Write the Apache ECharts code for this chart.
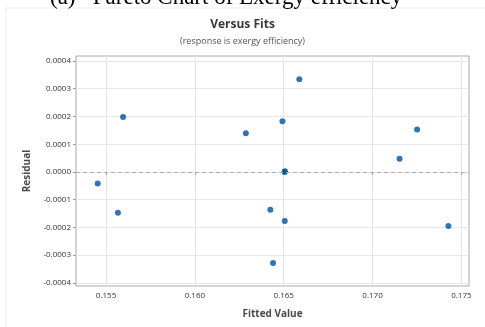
<!DOCTYPE html>
<html><head><meta charset="utf-8">
<script src="https://cdn.jsdelivr.net/npm/echarts@6/dist/echarts.min.js"></script>
<style>html,body{margin:0;padding:0;background:#fff}#c{width:485px;height:327px}</style>
</head><body><div id="c"></div>
<script>
const fittedValues = [0.15453, 0.15567, 0.15596, 0.16287, 0.16425, 0.16440, 0.16493, 0.16507, 0.16505, 0.16506, 0.16588, 0.17152, 0.17251, 0.17427];
const residuals    = [-0.000042, -0.000147, 0.000198, 0.000140, -0.000136, -0.000328, 0.000183, 0.000003, 0.000000, -0.000177, 0.000334, 0.000048, 0.000153, -0.000195];
const xTicks = [0.155, 0.160, 0.165, 0.170, 0.175];
const yTicks = [-0.0004, -0.0003, -0.0002, -0.0001, 0, 0.0001, 0.0002, 0.0003, 0.0004];

const chart = echarts.init(document.getElementById('c'), null, {renderer: 'canvas'});
const font = "'Open Sans', 'Noto Sans', sans-serif";
chart.setOption({
  animation: false,
  backgroundColor: '#fff',
  title: [
    {text: 'Versus Fits', left: 'center', top: 14, textStyle: {fontFamily: font, fontSize: 12, fontWeight: 'bold', color: '#3a3a3a'}},
    {text: '(response is exergy efficiency)', left: 'center', top: 32, textStyle: {fontFamily: font, fontSize: 9, fontWeight: 'normal', color: '#555'}}
  ],
  graphic: [
    {type: 'rect', shape: {x: 6, y: 8, width: 485, height: 330}, style: {fill: 'none', stroke: '#ececec', lineWidth: 1}, silent: true, z: -1},
    {type: 'text', left: 50, top: -14, style: {text: '(a)   Pareto Chart of Exergy efficiency', font: "23px 'Liberation Serif', 'Times New Roman', serif", fill: '#000'}, z: 10}
  ],
  grid: {left: 76, right: 16, top: 56, bottom: 41, show: true, borderColor: '#a8a8a8', borderWidth: 1, backgroundColor: 'transparent'},
  xAxis: {
    type: 'value', min: 0.15331, max: 0.17543,
    name: 'Fitted Value', nameLocation: 'middle', nameGap: 23,
    nameTextStyle: {fontFamily: font, fontSize: 10, fontWeight: 'bold', color: '#4a4a4a'},
    axisLine: {show: false},
    axisTick: {show: true, length: 3, lineStyle: {color: '#999'}, customValues: xTicks},
    axisLabel: {customValues: xTicks, fontFamily: font, fontSize: 8, color: '#333', margin: 6, formatter: v => v.toFixed(3)},
    splitLine: {show: true, lineStyle: {color: '#e6e6e6'}}
  },
  yAxis: {
    type: 'value', min: -0.000411, max: 0.000418,
    name: 'Residual', nameLocation: 'middle', nameGap: 40,
    nameTextStyle: {fontFamily: font, fontSize: 10, fontWeight: 'bold', color: '#4a4a4a'},
    axisLine: {show: false},
    axisTick: {show: true, length: 3, lineStyle: {color: '#999'}, customValues: yTicks},
    axisLabel: {customValues: yTicks, fontFamily: font, fontSize: 8, color: '#333', margin: 5, formatter: v => v.toFixed(4)},
    splitLine: {show: true, lineStyle: {color: '#e6e6e6'}}
  },
  series: [{
    type: 'scatter',
    data: fittedValues.map((x, i) => [x, residuals[i]]),
    symbolSize: 6,
    itemStyle: {color: '#0050a0'},
    markLine: {
      silent: true, symbol: 'none', label: {show: false},
      lineStyle: {color: '#b0b0b0', type: [4, 3], width: 1},
      data: [{yAxis: 0}]
    }
  }]
});
</script></body></html>
